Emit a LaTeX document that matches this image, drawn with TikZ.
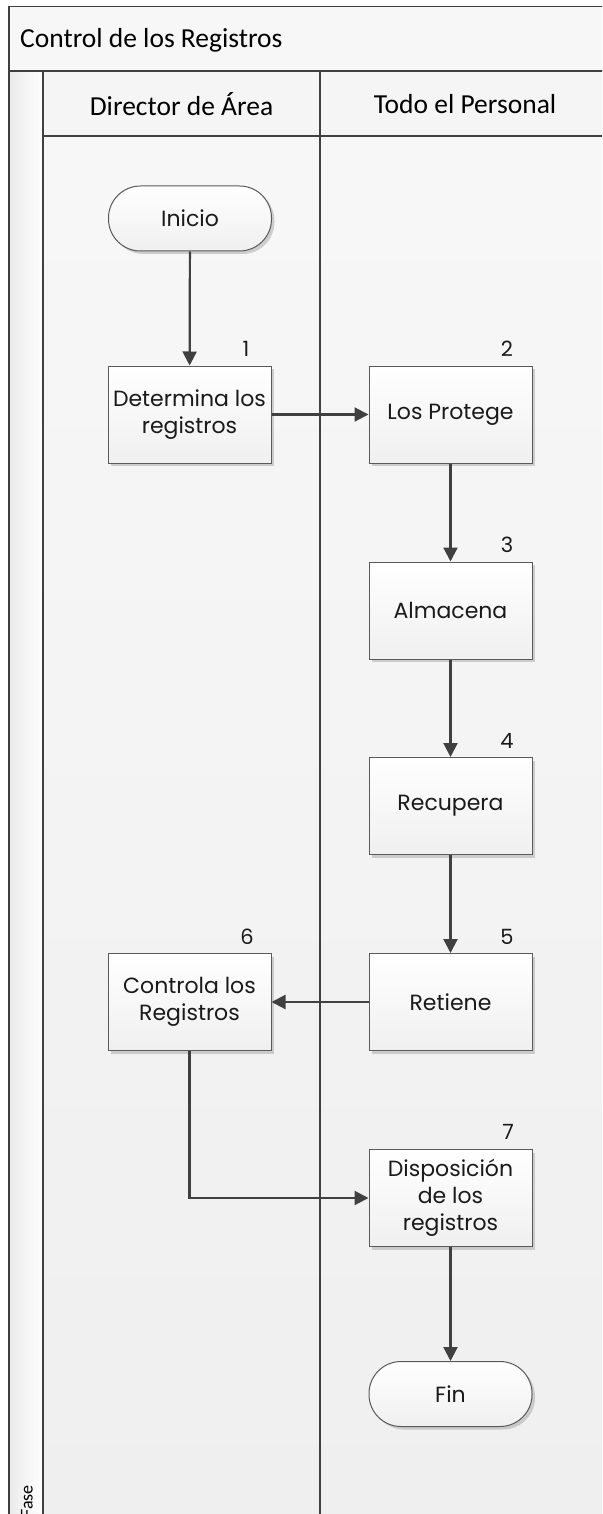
\documentclass[tikz,border=0pt]{standalone}
\usepackage{fontspec}
\setmainfont{Carlito}
\newfontfamily\calib{Carlito}
\newfontfamily\gothic{Poppins}
\usetikzlibrary{arrows.meta,shadows}
\definecolor{bgtop}{HTML}{F8F8F8}
\definecolor{bgbot}{HTML}{EFEFEF}
\definecolor{linec}{HTML}{404040}
\definecolor{boxline}{HTML}{5A5A5A}
\definecolor{txt}{HTML}{1A1A1A}
\begin{document}
\begin{tikzpicture}[x=1pt,y=-1pt,
  lane/.style={draw=linec, line width=1.3pt},
  proc/.style={draw=boxline, line width=1pt, top color=white, bottom color=black!6,
    minimum width=163pt, minimum height=97pt, inner sep=0pt, align=center, text=txt,
    font=\gothic\fontsize{22}{27}\selectfont,
    drop shadow={shadow xshift=3pt, shadow yshift=-3pt, fill=black!30, opacity=0.6}},
  term/.style={proc, minimum height=65pt, rounded corners=32pt},
  num/.style={font=\gothic\fontsize{21}{24}\selectfont, inner sep=0pt, text=txt},
  hdr/.style={font=\calib\fontsize{27.5}{32}\selectfont, inner sep=0pt},
  flow/.style={draw=linec, line width=2.2pt, -{Triangle[length=14pt,width=14pt]}},
]
\useasboundingbox (0,0) rectangle (602,1514);
\clip (0,0) rectangle (602,1514);
\fill[white] (0,0) rectangle (602,1514);
% backgrounds
\shade[top color=bgtop, bottom color=bgbot] (9,6.5) rectangle (620,1530);
\fill[black!3] (9,6.5) rectangle (620,71);
\fill[black!4] (43,71) rectangle (620,136);
\shade[left color=black!8, right color=white] (9,71) rectangle (43,1530);
% lane frame
\draw[lane] (9,1530) -- (9,6.5) -- (620,6.5);
\draw[lane] (9,71) -- (620,71);
\draw[lane] (43,71) -- (43,1530);
\draw[lane] (43,136) -- (620,136);
\draw[lane] (320,71) -- (320,1530);
% headers
\node[hdr, anchor=west] (title) at (20,40) {Control de los Registros};
\node[hdr] (h1) at (181.5,104) {Director de Área};
\node[hdr] (h2) at (465,104) {Todo el Personal};
\node[font=\calib\fontsize{18}{20}\selectfont, inner sep=0pt, rotate=90, anchor=east] (fase) at (27,1485) {Fase};
% nodes
\node[term] (ini) at (190,218.5) {Inicio};
\node[proc] (p1) at (189.5,414.5) {Determina los\\registros};
\node[proc] (p2) at (450.5,414.5) {Los Protege};
\node[proc] (p3) at (450.5,610.5) {Almacena};
\node[proc] (p4) at (450.5,806) {Recupera};
\node[proc] (p5) at (450.5,1002) {Retiene};
\node[proc] (p6) at (189.5,1002) {Controla los\\Registros};
\node[proc] (p7) at (450.5,1198) {Disposición\\de los\\registros};
\node[term] (fin) at (450.5,1394) {Fin};
% numbers
\node[num] (n1) at (246,349) {1};
\node[num] (n2) at (507,349) {2};
\node[num] (n3) at (507,545) {3};
\node[num] (n4) at (507,741) {4};
\node[num] (n5) at (507,937) {5};
\node[num] (n6) at (247,937) {6};
\node[num] (n7) at (508,1132) {7};
% connectors
\draw[flow] (ini) -- (p1);
\draw[flow] (p1) -- (p2);
\draw[flow] (p2) -- (p3);
\draw[flow] (p3) -- (p4);
\draw[flow] (p4) -- (p5);
\draw[flow] (p5) -- (p6);
\draw[flow] (p6.south) |- (p7.west);
\draw[flow] (p7) -- (fin);
\end{tikzpicture}
\end{document}
